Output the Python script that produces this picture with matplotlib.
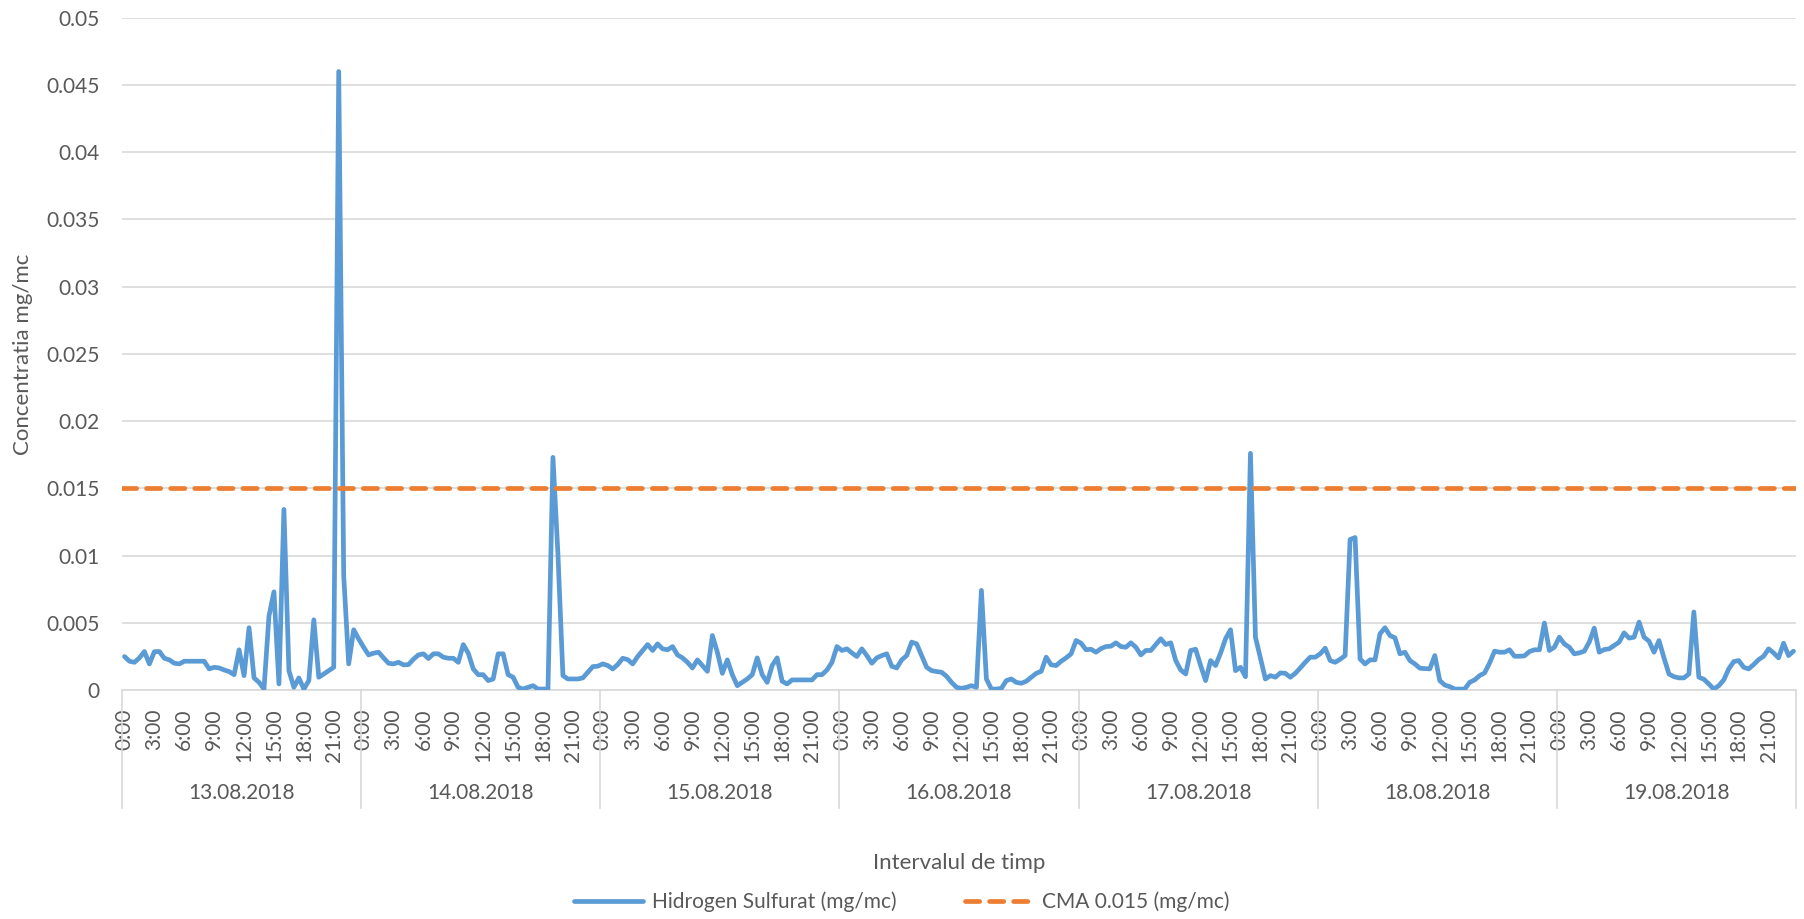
import matplotlib
matplotlib.use("Agg")
import matplotlib.pyplot as plt
from matplotlib.lines import Line2D
import matplotlib.transforms as mtransforms

plt.rcParams['font.family'] = ['Lato', 'DejaVu Sans']

# ---------------- data ----------------
dates = ["13.08.2018", "14.08.2018", "15.08.2018", "16.08.2018",
         "17.08.2018", "18.08.2018", "19.08.2018"]
hour_labels = ["0:00", "3:00", "6:00", "9:00", "12:00", "15:00", "18:00", "21:00"]

# half-hourly readings of hydrogen sulphide (mg/mc), 48 per day
h2s_13 = [0.00249, 0.00214, 0.00206, 0.00239, 0.00286, 0.00194, 0.00285, 0.00286,
          0.00236, 0.00224, 0.00199, 0.00194, 0.00214, 0.00214, 0.00214, 0.00214,
          0.00214, 0.00157, 0.00169, 0.00164, 0.00149, 0.00137, 0.00114, 0.00299,
          0.00107, 0.00463, 0.00090, 0.00057, 0.00007, 0.00550, 0.00730, 0.00045,
          0.01343, 0.00144, 0.00020, 0.00090, 0.00007, 0.00070, 0.00522, 0.00095,
          0.00119, 0.00144, 0.00169, 0.04600, 0.00850, 0.00194, 0.00448, 0.00380]
h2s_14 = [0.00318, 0.00261, 0.00274, 0.00281, 0.00239, 0.00199, 0.00194, 0.00206,
          0.00187, 0.00189, 0.00229, 0.00261, 0.00269, 0.00234, 0.00269, 0.00269,
          0.00244, 0.00236, 0.00236, 0.00206, 0.00338, 0.00274, 0.00157, 0.00114,
          0.00114, 0.00070, 0.00082, 0.00269, 0.00269, 0.00114, 0.00095, 0.00020,
          0.00007, 0.00020, 0.00032, 0.00007, 0.00007, 0.00007, 0.01730, 0.01010,
          0.00107, 0.00082, 0.00082, 0.00082, 0.00090, 0.00132, 0.00174, 0.00177]
h2s_15 = [0.00194, 0.00182, 0.00157, 0.00189, 0.00236, 0.00226, 0.00194, 0.00249,
          0.00294, 0.00338, 0.00294, 0.00343, 0.00306, 0.00299, 0.00323, 0.00261,
          0.00239, 0.00206, 0.00164, 0.00224, 0.00182, 0.00139, 0.00405, 0.00281,
          0.00124, 0.00224, 0.00114, 0.00032, 0.00057, 0.00082, 0.00114, 0.00239,
          0.00114, 0.00057, 0.00182, 0.00239, 0.00065, 0.00045, 0.00075, 0.00075,
          0.00075, 0.00075, 0.00075, 0.00114, 0.00114, 0.00149, 0.00206, 0.00323]
h2s_16 = [0.00294, 0.00306, 0.00276, 0.00249, 0.00306, 0.00256, 0.00199, 0.00239,
          0.00256, 0.00269, 0.00177, 0.00164, 0.00224, 0.00256, 0.00356, 0.00343,
          0.00256, 0.00169, 0.00144, 0.00137, 0.00132, 0.00102, 0.00057, 0.00020,
          0.00012, 0.00020, 0.00032, 0.00020, 0.00741, 0.00082, 0.00007, 0.00007,
          0.00012, 0.00070, 0.00082, 0.00057, 0.00050, 0.00065, 0.00095, 0.00124,
          0.00139, 0.00244, 0.00187, 0.00182, 0.00214, 0.00239, 0.00269, 0.00368]
h2s_17 = [0.00348, 0.00299, 0.00303, 0.00281, 0.00308, 0.00323, 0.00326, 0.00351,
          0.00323, 0.00318, 0.00351, 0.00318, 0.00261, 0.00294, 0.00294, 0.00338,
          0.00381, 0.00338, 0.00351, 0.00219, 0.00149, 0.00119, 0.00294, 0.00303,
          0.00182, 0.00070, 0.00219, 0.00182, 0.00274, 0.00381, 0.00448, 0.00144,
          0.00169, 0.00099, 0.01760, 0.00393, 0.00239, 0.00082, 0.00107, 0.00095,
          0.00127, 0.00124, 0.00095, 0.00124, 0.00164, 0.00206, 0.00244, 0.00244]
h2s_18 = [0.00269, 0.00311, 0.00219, 0.00206, 0.00229, 0.00256, 0.01119, 0.01134,
          0.00231, 0.00194, 0.00224, 0.00224, 0.00418, 0.00463, 0.00405, 0.00388,
          0.00269, 0.00281, 0.00219, 0.00194, 0.00162, 0.00159, 0.00157, 0.00256,
          0.00070, 0.00037, 0.00025, 0.00007, 0.00007, 0.00007, 0.00057, 0.00075,
          0.00107, 0.00127, 0.00201, 0.00289, 0.00281, 0.00281, 0.00299, 0.00251,
          0.00251, 0.00254, 0.00286, 0.00299, 0.00299, 0.00498, 0.00294, 0.00318]
h2s_19 = [0.00393, 0.00343, 0.00318, 0.00269, 0.00276, 0.00289, 0.00356, 0.00460,
          0.00281, 0.00301, 0.00306, 0.00331, 0.00356, 0.00425, 0.00386, 0.00393,
          0.00505, 0.00393, 0.00363, 0.00281, 0.00368, 0.00239, 0.00119, 0.00099,
          0.00090, 0.00090, 0.00119, 0.00580, 0.00095, 0.00080, 0.00045, 0.00007,
          0.00032, 0.00075, 0.00157, 0.00211, 0.00219, 0.00169, 0.00157, 0.00189,
          0.00226, 0.00251, 0.00306, 0.00276, 0.00239, 0.00348, 0.00256, 0.00289]

cma_value = 0.015
y_ticks = [0, 0.005, 0.01, 0.015, 0.02, 0.025, 0.03, 0.035, 0.04, 0.045, 0.05]
y_tick_labels = ["0", "0.005", "0.01", "0.015", "0.02", "0.025", "0.03",
                 "0.035", "0.04", "0.045", "0.05"]
series_label = "Hidrogen Sulfurat (mg/mc)"
cma_label = "CMA 0.015 (mg/mc)"

# ---------------- build ----------------
days = [h2s_13, h2s_14, h2s_15, h2s_16, h2s_17, h2s_18, h2s_19]
values = [v for d in days for v in d]
per_day = len(h2s_13)
n = len(values)
x = list(range(n))

BLUE = '#5B9BD5'
ORANGE = '#ED7D31'
GRID = '#D9D9D9'
TXT = '#595959'
W, H = 1804, 919
LW = 3.4
DASH = (3.0, 2.1)

fig = plt.figure(figsize=(W / 100, H / 100), dpi=100)
ax = fig.add_axes([122 / W, 1 - 690 / H, 1674 / W, 672.3 / H])

ax.plot(x, values, color=BLUE, lw=LW, solid_joinstyle='round',
        solid_capstyle='round', zorder=3)
ax.axhline(cma_value, color=ORANGE, lw=LW, dashes=DASH,
           dash_capstyle='round', zorder=4)

ax.set_xlim(-0.5, n - 0.5)
ax.set_ylim(0, 0.05)
ax.set_yticks(y_ticks)
ax.set_yticklabels(y_tick_labels)
ax.yaxis.grid(True, color=GRID, lw=1.2)
ax.set_axisbelow(True)
ax.tick_params(axis='y', length=0, pad=16, labelcolor=TXT, labelsize=15)

xt = []
xl = []
for d in range(len(days)):
    for m, lab in enumerate(hour_labels):
        xt.append(d * per_day + m * (per_day // len(hour_labels)))
        xl.append(lab)
ax.set_xticks(xt)
ax.set_xticklabels(xl, rotation=90)
ax.tick_params(axis='x', length=0, pad=13, labelcolor=TXT, labelsize=15)

for s in ['left', 'top', 'right']:
    ax.spines[s].set_visible(False)
ax.spines['bottom'].set_color(GRID)
ax.spines['bottom'].set_linewidth(1.2)

trans = mtransforms.blended_transform_factory(ax.transData, ax.transAxes)
for d in range(len(days) + 1):
    xp = d * per_day - 0.5
    ax.add_line(Line2D([xp, xp], [0, -0.1755], transform=trans, clip_on=False,
                       color=GRID, lw=1.2))
for d, lab in enumerate(dates):
    ax.text(d * per_day + (per_day - 1) / 2, -0.153, lab, transform=trans,
            ha='center', va='center', fontsize=15, color=TXT)

fig.text(23 / W, 1 - 354 / H, "Concentratia mg/mc", rotation=90,
         ha='center', va='center', fontsize=16, color=TXT)
fig.text(959 / W, 1 - 863 / H, "Intervalul de timp", ha='center', va='center',
         fontsize=16, color=TXT)

handles = [Line2D([], [], color=BLUE, lw=LW, solid_capstyle='round'),
           Line2D([], [], color=ORANGE, lw=LW, dashes=DASH,
                  dash_capstyle='round')]
leg = fig.legend(handles, [series_label, cma_label], loc='center',
                 bbox_to_anchor=(0.5, 1 - 902 / H), ncol=2, frameon=False,
                 fontsize=15, handlelength=3.3, columnspacing=3.3,
                 handletextpad=0.4)
for t in leg.get_texts():
    t.set_color(TXT)

fig.savefig("out.png", dpi=100, facecolor='white')
